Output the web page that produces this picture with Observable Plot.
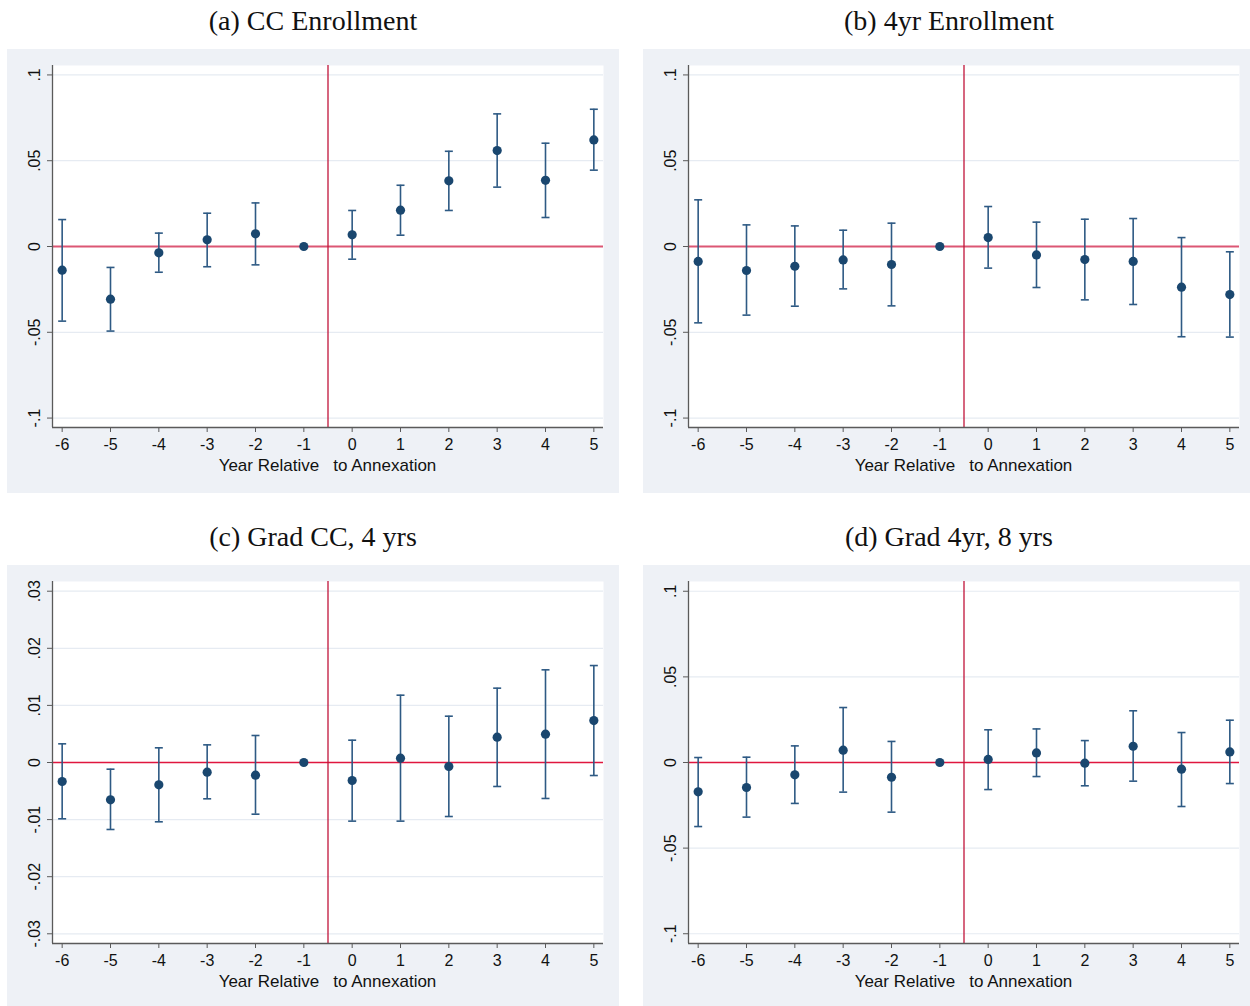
<!DOCTYPE html>
<html>
<head>
<meta charset="utf-8">
<script src="https://cdn.jsdelivr.net/npm/d3@7"></script>
<script src="https://cdn.jsdelivr.net/npm/@observablehq/plot@0.6"></script>
<style>
  html, body { margin: 0; padding: 0; background: #ffffff; overflow: hidden; }
  #page { position: relative; width: 1250px; height: 1006px; overflow: hidden; }
  .panel { position: absolute; width: 612px; }
  .panel svg { max-width: none !important; display: block; }
  .title { position: absolute; width: 612px; text-align: center; font-family: "Liberation Serif", "DejaVu Serif", serif; font-size: 28px; color: #111; line-height: 1; }
  .xtitle { position: absolute; width: 551px; text-align: center; font-family: "Liberation Sans", Arial, sans-serif; font-size: 17px; color: #111; white-space: pre; line-height: 1; }
</style>
</head>
<body>
<div id="page"></div>
<script>
// ---- Data ----
const years = [-6, -5, -4, -3, -2, -1, 0, 1, 2, 3, 4, 5];
const xTickLabels = ["-6", "-5", "-4", "-3", "-2", "-1", "0", "1", "2", "3", "4", "5"];

const titles = ["(a) CC Enrollment", "(b) 4yr Enrollment", "(c) Grad CC, 4 yrs", "(d) Grad 4yr, 8 yrs"];
const xAxisTitle = "Year Relative   to Annexation";

// (a) CC Enrollment
const ccEnrollEst = [-0.0138, -0.0307, -0.0037, 0.0039, 0.0074, 0, 0.0068, 0.0212, 0.0383, 0.0559, 0.0386, 0.0621];
const ccEnrollHi  = [0.0157, -0.0122, 0.0078, 0.0194, 0.0254, null, 0.0210, 0.0357, 0.0555, 0.0773, 0.0602, 0.0800];
const ccEnrollLo  = [-0.0435, -0.0493, -0.0150, -0.0118, -0.0107, null, -0.0074, 0.0066, 0.0210, 0.0346, 0.0169, 0.0445];

// (b) 4yr Enrollment
const fyEnrollEst = [-0.0087, -0.0140, -0.0115, -0.0078, -0.0105, 0, 0.0052, -0.0049, -0.0076, -0.0087, -0.0237, -0.0280];
const fyEnrollHi  = [0.0272, 0.0126, 0.0120, 0.0095, 0.0136, null, 0.0233, 0.0142, 0.0159, 0.0163, 0.0052, -0.0031];
const fyEnrollLo  = [-0.0445, -0.0400, -0.0348, -0.0247, -0.0346, null, -0.0126, -0.0239, -0.0311, -0.0338, -0.0526, -0.0528];

// (c) Grad CC, 4 yrs
const ccGradEst = [-0.00333, -0.00654, -0.00391, -0.00169, -0.00222, 0, -0.00315, 0.00076, -0.00070, 0.00444, 0.00496, 0.00735];
const ccGradHi  = [0.00327, -0.00117, 0.00257, 0.00309, 0.00473, null, 0.00391, 0.01179, 0.00811, 0.01302, 0.01623, 0.01698];
const ccGradLo  = [-0.00986, -0.01173, -0.01039, -0.00636, -0.00905, null, -0.01027, -0.01027, -0.00946, -0.00420, -0.00630, -0.00228];

// (d) Grad 4yr, 8 yrs
const fyGradEst = [-0.0171, -0.0146, -0.0072, 0.0072, -0.0086, 0, 0.0018, 0.0056, -0.0004, 0.0095, -0.0039, 0.0062];
const fyGradHi  = [0.0029, 0.0031, 0.0097, 0.0321, 0.0123, null, 0.0191, 0.0196, 0.0128, 0.0302, 0.0175, 0.0247];
const fyGradLo  = [-0.0374, -0.0319, -0.0239, -0.0173, -0.0290, null, -0.0158, -0.0082, -0.0136, -0.0109, -0.0257, -0.0123];

// Y ticks
const yTicksWide = [-0.1, -0.05, 0, 0.05, 0.1];
const yTickLabelsWide = ["-.1", "-.05", "0", ".05", ".1"];
const yTicksNarrow = [-0.03, -0.02, -0.01, 0, 0.01, 0.02, 0.03];
const yTickLabelsNarrow = ["-.03", "-.02", "-.01", "0", ".01", ".02", ".03"];

// ---- Styles ----
const NAVY = "#1a476f";
const BAR = "#2e5a84";
const BG = "#eef1f6";
const GRID = "#e6ebf2";
const AXIS = "#5a5a5a";
const VLINE = "#c0143a";

const capSymbol = {
  draw(context, size) {
    const r = Math.sqrt(size / Math.PI);
    context.moveTo(-r, 0);
    context.lineTo(r, 0);
  }
};

function rows(est, hi, lo) {
  return years.map((t, i) => ({t, b: est[i], hi: hi[i], lo: lo[i]}));
}

function panel(cfg) {
  const data = rows(cfg.est, cfg.hi, cfg.lo);
  const ci = data.filter(d => d.hi != null);
  const xDomain = [-6.2, 5.2];
  const yMap = new Map(cfg.yTicks.map((v, i) => [v, cfg.yLabels[i]]));
  const xMap = new Map(years.map((v, i) => [v, xTickLabels[i]]));
  return Plot.plot({
    width: 612,
    height: cfg.height,
    marginTop: 16,
    marginBottom: cfg.height - 16 - 362,
    marginLeft: 45,
    marginRight: 16,
    style: {background: BG, fontFamily: "'Liberation Sans', Arial, sans-serif", fontSize: "16px", color: "#111", maxWidth: "none"},
    x: {domain: xDomain},
    y: {domain: cfg.yDomain},
    marks: [
      Plot.frame({fill: "white", stroke: null}),
      Plot.ruleY(cfg.yTicks, {stroke: GRID, strokeWidth: 1.2}),
      Plot.ruleY([0], {stroke: cfg.zeroColor, strokeWidth: cfg.zeroWidth}),
      Plot.ruleX([-0.5], {stroke: VLINE, strokeWidth: 1.3}),
      Plot.ruleX(ci, {x: "t", y1: "lo", y2: "hi", stroke: BAR, strokeWidth: 1.6}),
      Plot.dot(ci, {x: "t", y: "hi", symbol: capSymbol, r: 4, stroke: BAR, strokeWidth: 1.6}),
      Plot.dot(ci, {x: "t", y: "lo", symbol: capSymbol, r: 4, stroke: BAR, strokeWidth: 1.6}),
      Plot.dot(data, {x: "t", y: "b", r: 4.6, fill: NAVY, stroke: null}),
      Plot.ruleX([xDomain[0]], {stroke: AXIS, strokeWidth: 1.3}),
      Plot.ruleY([cfg.yDomain[0]], {stroke: AXIS, strokeWidth: 1.3}),
      Plot.axisX(years, {tickSize: 5, tickPadding: 6, stroke: AXIS, tickFormat: d => xMap.get(d), label: null, fontSize: 16}),
      Plot.axisY(cfg.yTicks, {tickSize: 5, tickPadding: 8, stroke: AXIS, tickRotate: -90, tickFormat: d => yMap.get(d), label: null, fontSize: 16})
    ]
  });
}

const configs = [
  {left: 7, top: 49, height: 444, est: ccEnrollEst, hi: ccEnrollHi, lo: ccEnrollLo, yDomain: [-0.1055, 0.1055], yTicks: yTicksWide, yLabels: yTickLabelsWide, zeroColor: "#dc5774", zeroWidth: 2},
  {left: 643, top: 49, height: 444, est: fyEnrollEst, hi: fyEnrollHi, lo: fyEnrollLo, yDomain: [-0.1055, 0.1055], yTicks: yTicksWide, yLabels: yTickLabelsWide, zeroColor: "#dc5774", zeroWidth: 2},
  {left: 7, top: 565, height: 441, est: ccGradEst, hi: ccGradHi, lo: ccGradLo, yDomain: [-0.0317, 0.0317], yTicks: yTicksNarrow, yLabels: yTickLabelsNarrow, zeroColor: "#e0163f", zeroWidth: 1.4},
  {left: 643, top: 565, height: 441, est: fyGradEst, hi: fyGradHi, lo: fyGradLo, yDomain: [-0.1057, 0.1057], yTicks: yTicksWide, yLabels: yTickLabelsWide, zeroColor: "#e0163f", zeroWidth: 1.4}
];

const page = document.getElementById("page");
configs.forEach((cfg, i) => {
  const title = document.createElement("div");
  title.className = "title";
  title.textContent = titles[i];
  title.style.left = cfg.left + "px";
  title.style.top = (cfg.top - 42) + "px";
  page.appendChild(title);

  const wrap = document.createElement("div");
  wrap.className = "panel";
  wrap.style.left = cfg.left + "px";
  wrap.style.top = cfg.top + "px";
  wrap.appendChild(panel(cfg));
  page.appendChild(wrap);

  const xt = document.createElement("div");
  xt.className = "xtitle";
  xt.textContent = xAxisTitle;
  xt.style.left = (cfg.left + 45) + "px";
  xt.style.top = (cfg.top + 16 + 362 + 30) + "px";
  page.appendChild(xt);
});
</script>
</body>
</html>
